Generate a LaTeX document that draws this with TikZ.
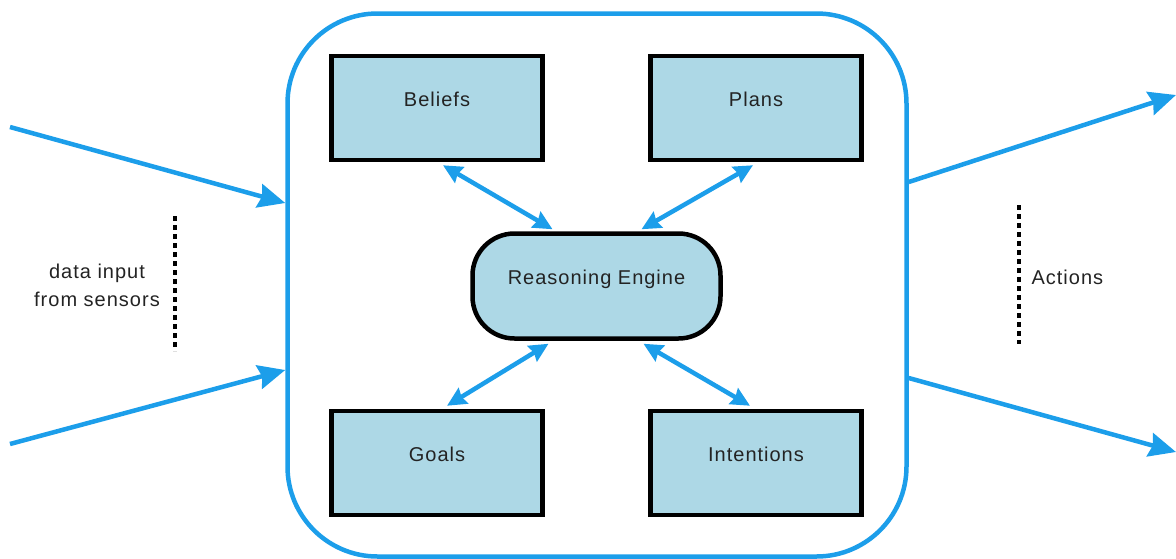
\documentclass[tikz,border=0pt]{standalone}
\usepackage{fontspec}
\setmainfont{Liberation Sans}
\usetikzlibrary{arrows.meta,calc}
\definecolor{lnblue}{RGB}{28,158,234}
\definecolor{boxfill}{RGB}{173,216,230}
\definecolor{txtgray}{RGB}{35,35,35}
\begin{document}
\begin{tikzpicture}[x=1pt,y=-1pt,
  lbl/.style={font=\fontsize{20}{24}\selectfont\addfontfeature{LetterSpace=5}, text=txtgray},
  kbox/.style={draw=black, line width=4.5pt, fill=boxfill, minimum width=211pt, minimum height=104pt, inner sep=0pt, text height=13pt, text depth=17pt, lbl},
  engine/.style={draw=black, line width=4.5pt, fill=boxfill, rounded corners=42pt, minimum width=248pt, minimum height=105pt, inner sep=0pt, text height=13pt, text depth=17pt, lbl},
  outerbox/.style={draw=lnblue, line width=4.5pt, rounded corners=90pt, minimum width=619pt, minimum height=543pt, inner sep=0pt},
  dbl/.style={draw=lnblue, line width=4.5pt, {Stealth[length=19pt,width=18pt,inset=2pt]}-{Stealth[length=19pt,width=18pt,inset=2pt]}},
  big/.style={draw=lnblue, line width=4.5pt, -{Stealth[length=27pt,width=24pt,inset=3pt]}},
  dots/.style={draw=black, line width=4.5pt, dash pattern=on 5pt off 4pt}
]
\useasboundingbox (0,0) rectangle (1176,558);
\node[outerbox] (outer) at (597,285) {};
\node[kbox] (beliefs) at (437,108) {Beliefs};
\node[kbox] (plans) at (756,108) {Plans};
\node[kbox] (goals) at (437,463) {Goals};
\node[kbox] (intentions) at (756,463) {Intentions};
\node[engine] (engine) at (596.5,286) {Reasoning Engine};

\draw[dbl] ([xshift=6pt,yshift=-3pt]beliefs.south) -- ([xshift=-44pt,yshift=2pt]engine.north);
\draw[dbl] ([xshift=-3pt,yshift=-3pt]plans.south) -- ([xshift=45pt,yshift=2pt]engine.north);
\draw[dbl] ([xshift=10pt,yshift=3pt]goals.north) -- ([xshift=-48pt,yshift=-3pt]engine.south);
\draw[dbl] ([xshift=-6pt,yshift=3pt]intentions.north) -- ([xshift=47pt,yshift=-3pt]engine.south);

\coordinate (in1) at (10,127);
\coordinate (in2) at (10,444);
\coordinate (out1) at (1176,95);
\coordinate (out2) at (1176,452);
\draw[big] (in1) -- ([yshift=82pt]outer.west);
\draw[big] (in2) -- ([yshift=-85pt]outer.west);
\draw[big] ([yshift=103pt]outer.east) -- (out1);
\draw[big] ([yshift=-93pt]outer.east) -- (out2);

\coordinate (d1a) at (175,216);
\coordinate (d1b) at (175,351);
\coordinate (d2a) at (1019,205);
\coordinate (d2b) at (1019,344);
\draw[dots] (d1a) -- (d1b);
\draw[dots] (d2a) -- (d2b);
\node[lbl, align=center, font=\fontsize{20}{28}\selectfont\addfontfeature{LetterSpace=5}] (datain) at (97,285) {data input\\from sensors};
\node[lbl, anchor=west] (actions) at (1028,277) {Actions};
\end{tikzpicture}
\end{document}
